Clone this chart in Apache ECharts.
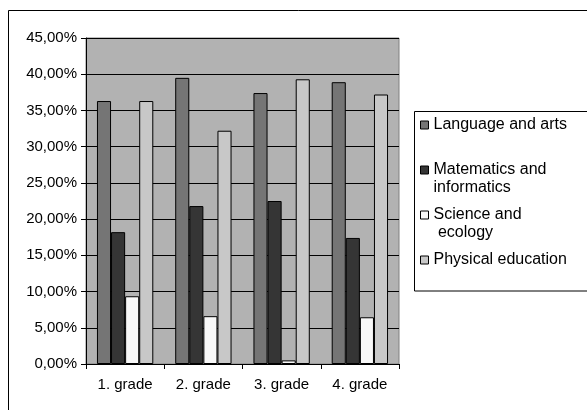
<!DOCTYPE html>
<html>
<head>
<meta charset="utf-8">
<script src="https://cdn.jsdelivr.net/npm/echarts@6/dist/echarts.min.js"></script>
<style>
  html, body { margin: 0; padding: 0; background: #fff; }
  #chart { width: 587px; height: 410px; }
</style>
</head>
<body>
<div id="chart"></div>
<script>
// Share of subject areas per grade (percent)
const grades = ['1. grade', '2. grade', '3. grade', '4. grade'];
const subjectNames = ['Language and arts', 'Matematics and informatics', 'Science and ecology', 'Physical education'];
const languageArts = [36.3, 39.5, 37.4, 38.9];
const mathInformatics = [18.2, 21.8, 22.5, 17.4];
const scienceEcology = [9.35, 6.6, 0.5, 6.45];
const physicalEducation = [36.3, 32.2, 39.3, 37.2];
const yTicks = { min: 0, max: 45, step: 5 };

const seriesValues = [languageArts, mathInformatics, scienceEcology, physicalEducation];
const barColors = ['#757575', '#353535', '#f8f8f8', '#c8c8c8'];

// legend label text (first line is centred on the marker)
const legendText = {
  'Language and arts': 'Language and arts',
  'Matematics and informatics': ' \nMatematics and\ninformatics',
  'Science and ecology': ' \nScience and\n ecology',
  'Physical education': 'Physical education'
};
const legendTops = [116, 143, 188, 251];

const font = "'Liberation Sans', Arial, sans-serif";

const chart = echarts.init(document.getElementById('chart'), null, { renderer: 'canvas' });

const option = {
  animation: false,
  backgroundColor: '#ffffff',
  textStyle: { fontFamily: font },
  graphic: [
    {
      type: 'rect',
      shape: { x: 8.5, y: 10.5, width: 700, height: 500 },
      style: { fill: 'none', stroke: '#000', lineWidth: 1 },
      silent: true
    },
    {
      type: 'rect',
      shape: { x: 414.5, y: 111.5, width: 300, height: 179.5 },
      style: { fill: '#fff', stroke: '#000', lineWidth: 1 },
      silent: true,
      z: 0
    }
  ],
  legend: subjectNames.map((name, i) => ({
    data: [name],
    orient: 'vertical',
    left: 420,
    top: legendTops[i],
    padding: 0,
    itemWidth: 8,
    itemHeight: 8,
    icon: 'rect',
    itemStyle: { borderColor: '#000', borderWidth: 1 },
    formatter: n => legendText[n],
    textStyle: { fontFamily: font, fontSize: 16, color: '#000', lineHeight: 18 },
    selectedMode: false,
    z: 5
  })),
  grid: {
    left: 86,
    top: 38,
    right: 188,
    bottom: 46,
    show: true,
    backgroundColor: '#b2b2b2',
    borderColor: '#808080',
    borderWidth: 1
  },
  xAxis: {
    type: 'category',
    data: grades,
    axisLine: { show: true, lineStyle: { color: '#000', width: 1 } },
    axisTick: { show: true, length: 5, lineStyle: { color: '#000' } },
    axisLabel: { color: '#000', fontSize: 15, fontFamily: font, margin: 13 },
    splitLine: { show: false }
  },
  yAxis: {
    type: 'value',
    min: yTicks.min,
    max: yTicks.max,
    interval: yTicks.step,
    axisLine: { show: true, lineStyle: { color: '#000', width: 1 } },
    axisTick: { show: true, length: 5, lineStyle: { color: '#000' } },
    axisLabel: {
      color: '#000',
      fontSize: 15,
      fontFamily: font,
      margin: 9,
      formatter: v => v.toFixed(2).replace('.', ',') + '%'
    },
    splitLine: { show: true, lineStyle: { color: '#000', width: 1 } }
  },
  series: subjectNames.map((name, i) => ({
    name: name,
    type: 'bar',
    data: seriesValues[i],
    barGap: '0%',
    barCategoryGap: '28%',
    itemStyle: { color: barColors[i], borderColor: '#000', borderWidth: 1 }
  }))
};

chart.setOption(option);
</script>
</body>
</html>
